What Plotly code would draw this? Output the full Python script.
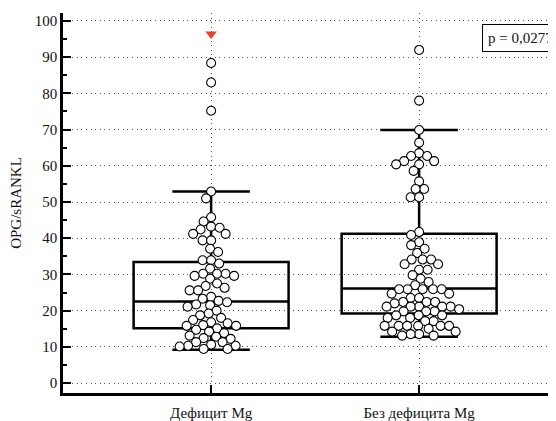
import plotly.graph_objects as go
import numpy as np

# ---------------- data ----------------
categories = ["Дефицит Mg", "Без дефицита Mg"]

deficit_points = [52.9, 51.0, 45.8, 44.6, 43.2, 42.9, 42.4, 41.2, 41.2, 39.4, 39.4,
                  37.1, 36.2, 33.9, 33.9, 33.0, 31.6, 30.2, 30.2, 30.2, 29.6, 29.6,
                  28.8, 27.5, 26.8, 26.3, 25.6, 25.6, 23.8, 23.3, 22.7, 22.3, 21.7,
                  21.5, 21.1, 20.0, 19.2, 18.7, 18.0, 17.4, 16.8, 16.5, 16.0, 15.8,
                  15.8, 15.1, 14.7, 14.2, 13.8, 13.1, 12.8, 12.4, 12.2, 11.3, 11.3,
                  10.6, 10.3, 10.3, 10.1, 9.4, 9.4]
normal_points = [69.9, 66.4, 63.5, 62.7, 62.7, 61.3, 61.3, 60.4, 60.4, 58.6, 55.7,
                 53.6, 53.6, 51.3, 51.3, 41.7, 40.9, 38.9, 38.1, 37.1, 35.9, 34.1,
                 34.1, 34.1, 32.8, 32.8, 31.3, 31.3, 29.8, 28.8, 27.9, 27.0,
                 25.9, 25.9, 25.9, 25.9, 25.9, 24.7, 24.7, 23.5, 23.5, 22.4, 22.4,
                 22.4, 22.0, 21.1, 21.1, 21.1, 21.1, 21.1, 20.4, 19.8, 19.8, 19.8,
                 18.7, 18.7, 18.7, 18.0, 18.0, 17.1, 17.1, 15.8, 15.8, 15.8, 15.8,
                 15.8, 15.8, 15.0, 14.2, 14.2, 13.5, 13.5, 13.1, 13.1]
deficit_outliers = [75.2, 83.0, 88.4]
normal_outliers = [78.0, 92.0]
offscale_marker = [96.4]   # value beyond the axis (deficit group)

q1 = [15.1, 19.2]
median = [22.5, 26.1]
q3 = [33.4, 41.2]
lowerfence = [9.2, 12.8]
upperfence = [52.9, 69.9]

y_ticks = list(range(0, 101, 10))
p_text = "p = 0,0277"

# ---------------- layout constants ----------------
OFF = 8                      # default page body margin
W, H = 556 - OFF, 421 - OFF
ML, MR, MT, MB = 63 - OFF, 0, 13 - OFF, 26
XR = [-0.712, 1.658]
YR = [-2.75, 102.2]
PW, PH = W - ML - MR, H - MT - MB
px_x = PW / (XR[1] - XR[0])
px_y = PH / (YR[1] - YR[0])
MS = 9


def swarm(vals, diam_px=8.4):
    """deterministic beeswarm offsets (data units of x)"""
    order = np.argsort(vals)[::-1]
    placed = []
    offs = np.zeros(len(vals))
    for i in order:
        yv = vals[i] * px_y
        best = None
        for k in range(0, 200):
            for sgn in ([0] if k == 0 else [-1, 1]):
                cand = sgn * k * 0.5
                if all((cand - ox) ** 2 + (yv - oy) ** 2 >= diam_px ** 2 for ox, oy in placed):
                    best = cand
                    break
            if best is not None:
                break
        placed.append((best, yv))
        offs[i] = best / px_x
    return offs


fig = go.Figure()

fig.add_trace(go.Box(
    x=[0, 1], q1=q1, median=median, q3=q3,
    lowerfence=lowerfence, upperfence=upperfence,
    width=0.745, whiskerwidth=0.5, boxpoints=False,
    line=dict(color="black", width=2.5), fillcolor="rgba(0,0,0,0)",
    showlegend=False, hoverinfo="skip"))

marker = dict(symbol="circle", size=MS, color="white", line=dict(color="black", width=1.1))
for xi, pts, outs in [(0, deficit_points, deficit_outliers), (1, normal_points, normal_outliers)]:
    offs = swarm(pts)
    fig.add_trace(go.Scatter(x=xi + offs, y=pts, mode="markers", marker=marker, showlegend=False))
    fig.add_trace(go.Scatter(x=[xi] * len(outs), y=outs, mode="markers", marker=marker, showlegend=False))

fig.add_trace(go.Scatter(x=[0] * len(offscale_marker), y=offscale_marker, mode="markers",
                         marker=dict(symbol="triangle-down", size=10, color="#e8402a"),
                         showlegend=False))

grid = dict(showgrid=True, gridcolor="#555", gridwidth=1, griddash="1px,3.6px")
font = dict(family="Liberation Serif", size=15, color="#111")

fig.update_layout(
    width=W, height=H, margin=dict(l=ML, r=MR, t=MT, b=MB),
    paper_bgcolor="white", plot_bgcolor="white", font=font,
    xaxis=dict(range=XR, tickvals=[0, 1], ticktext=categories, ticks="inside", ticklen=8,
               tickwidth=2, tickcolor="black", showline=True, linewidth=2.5, linecolor="black",
               zeroline=False, ticklabelstandoff=4, **grid),
    yaxis=dict(range=YR, tickvals=y_ticks, ticks="inside", ticklen=8, tickwidth=2,
               tickcolor="black", showline=True, linewidth=2.5, linecolor="black",
               zeroline=False, title=dict(text="OPG/sRANKL", standoff=16, font=font),
               minor=dict(dtick=5, ticks="inside", ticklen=4, tickwidth=1.5,
                          tickcolor="black", showgrid=False),
               **grid),
)

fig.add_annotation(text=p_text, xref="paper", yref="paper",
                   x=(482 - OFF - ML) / PW, y=(H - MB - (24 - OFF)) / PH,
                   xanchor="left", yanchor="top", showarrow=False, align="left",
                   bordercolor="black", borderwidth=1, borderpad=5, bgcolor="white",
                   font=font)

fig.write_html("out.html")
